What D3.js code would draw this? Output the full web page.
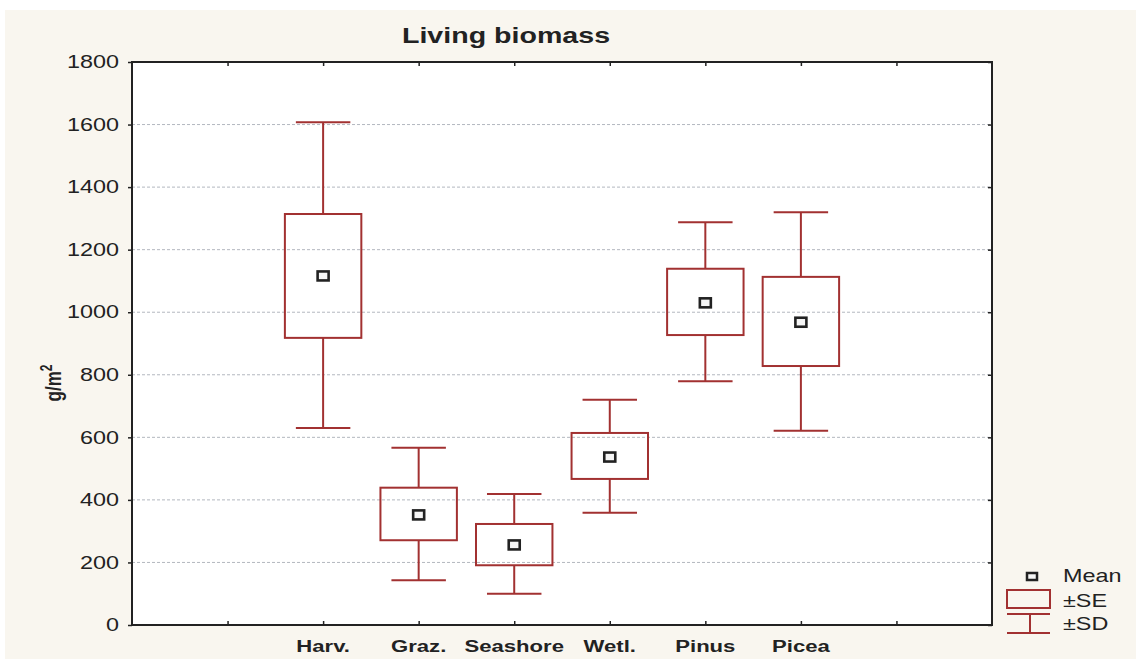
<!DOCTYPE html>
<html>
<head>
<meta charset="utf-8">
<script src="https://cdn.jsdelivr.net/npm/d3@7"></script>
<style>
  html, body { margin: 0; padding: 0; background: #ffffff; }
  svg { display: block; }
  text { font-family: "Liberation Sans", Arial, sans-serif; fill: #222; }
</style>
</head>
<body>
<svg id="chart" width="1136" height="659"></svg>
<script>
// ---- data ----
const categories = ["Harv.", "Graz.", "Seashore", "Wetl.", "Pinus", "Picea"];
const means  = [1116, 352, 256, 537, 1030, 968];
const seLow  = [918, 271, 191, 467, 927, 828];
const seHigh = [1314, 439, 323, 614, 1139, 1113];
const sdLow  = [630, 143, 100, 359, 779, 621];
const sdHigh = [1607, 567, 419, 720, 1288, 1320];
const yTicks = [0, 200, 400, 600, 800, 1000, 1200, 1400, 1600, 1800];
const xTicks = [1, 2, 3, 4, 5, 6, 7, 8];

const chartTitle = "Living biomass";
const legendLabels = ["Mean", "\u00b1SE", "\u00b1SD"];

// ---- layout ----
(function () {
const W = 1136, H = 659;
const pL = 132, pR = 992, pT = 62, pB = 625;
const SX = 1.3; // horizontal text stretch of the reference
const red = "#a23131";
const dark = "#222";

const svg = d3.select("#chart");

// background
svg.append("rect").attr("x", 5).attr("y", 10).attr("width", W - 5).attr("height", H - 10)
  .attr("fill", "#f9f6ef");
svg.append("rect").attr("x", pL).attr("y", pT).attr("width", pR - pL).attr("height", pB - pT)
  .attr("fill", "#ffffff");

const x = d3.scaleLinear().domain([0, 9]).range([pL, pR]);
const y = d3.scaleLinear().domain([0, 1800]).range([pB, pT]);

// gridlines
svg.append("g").selectAll("line")
  .data(yTicks.filter(v => v > 0 && v < 1800))
  .join("line")
  .attr("x1", pL).attr("x2", pR)
  .attr("y1", d => y(d)).attr("y2", d => y(d))
  .attr("stroke", "#b3b7bf").attr("stroke-width", 1)
  .attr("stroke-dasharray", "3,2");

// axes
function styleAxis(g) {
  g.select(".domain").remove();
  g.selectAll(".tick line").attr("stroke", dark).attr("stroke-width", 1.5);
}
const yAxis = svg.append("g").attr("transform", `translate(${pL},0)`)
  .call(d3.axisLeft(y).tickValues(yTicks).tickSize(4).tickPadding(9).tickFormat(d3.format("d")))
  .call(styleAxis);
yAxis.selectAll(".tick text")
  .attr("font-size", 18).style("font-family", "'Liberation Sans', Arial, sans-serif").attr("fill", dark)
  .each(function () {
    const t = d3.select(this);
    const tx = +t.attr("x");
    t.attr("x", 0).attr("transform", `translate(${tx},0) scale(${SX},1)`);
  });

svg.append("g").attr("transform", `translate(0,${pB})`)
  .call(d3.axisTop(x).tickValues(xTicks).tickSize(4).tickFormat(""))
  .call(styleAxis);
svg.append("g").attr("transform", `translate(0,${pT})`)
  .call(d3.axisBottom(x).tickValues(xTicks).tickSize(4).tickFormat(""))
  .call(styleAxis);
svg.append("g").attr("transform", `translate(${pR},0)`)
  .call(d3.axisLeft(y).tickValues(yTicks).tickSize(4).tickFormat(""))
  .call(styleAxis);

// frame
svg.append("rect").attr("x", pL).attr("y", pT).attr("width", pR - pL).attr("height", pB - pT)
  .attr("fill", "none").attr("stroke", dark).attr("stroke-width", 2);

// boxes
const step = x(1) - x(0);
const boxW = step * 0.8, capW = step * 0.57;
const data = categories.map((c, i) => ({
  c, pos: i + 2, mean: means[i], seL: seLow[i], seH: seHigh[i], sdL: sdLow[i], sdH: sdHigh[i]
}));

const g = svg.append("g").selectAll("g").data(data).join("g");
g.append("line").attr("x1", d => x(d.pos)).attr("x2", d => x(d.pos))
  .attr("y1", d => y(d.sdH)).attr("y2", d => y(d.seH))
  .attr("stroke", red).attr("stroke-width", 2);
g.append("line").attr("x1", d => x(d.pos)).attr("x2", d => x(d.pos))
  .attr("y1", d => y(d.seL)).attr("y2", d => y(d.sdL))
  .attr("stroke", red).attr("stroke-width", 2);
g.append("line").attr("x1", d => x(d.pos) - capW / 2).attr("x2", d => x(d.pos) + capW / 2)
  .attr("y1", d => y(d.sdH)).attr("y2", d => y(d.sdH))
  .attr("stroke", red).attr("stroke-width", 2);
g.append("line").attr("x1", d => x(d.pos) - capW / 2).attr("x2", d => x(d.pos) + capW / 2)
  .attr("y1", d => y(d.sdL)).attr("y2", d => y(d.sdL))
  .attr("stroke", red).attr("stroke-width", 2);
g.append("rect").attr("x", d => x(d.pos) - boxW / 2).attr("width", boxW)
  .attr("y", d => y(d.seH)).attr("height", d => y(d.seL) - y(d.seH))
  .attr("fill", "none").attr("stroke", red).attr("stroke-width", 2);
g.append("rect").attr("x", d => x(d.pos) - 5.5).attr("width", 11)
  .attr("y", d => y(d.mean) - 4.5).attr("height", 9)
  .attr("fill", "#f6f6f6").attr("stroke", dark).attr("stroke-width", 2.6);

// x labels
svg.append("g").selectAll("text").data(data).join("text")
  .attr("transform", d => `translate(${x(d.pos)},652) scale(${SX},1)`)
  .attr("text-anchor", "middle").attr("font-size", 17).attr("font-weight", "bold")
  .text(d => d.c);

// title
svg.append("text").attr("transform", `translate(506,43) scale(${SX},1)`)
  .attr("text-anchor", "middle").attr("font-size", 22).attr("font-weight", "bold")
  .text(chartTitle);

// y axis label
const yl = svg.append("text").attr("transform", `translate(61,383) scale(${SX},1) rotate(-90)`)
  .attr("text-anchor", "middle").attr("font-size", 17).attr("font-weight", "bold");
yl.append("tspan").text("g/m");
yl.append("tspan").attr("font-size", 12).attr("dy", -7).text("2");

// legend
const lg = svg.append("g");
lg.append("rect").attr("x", 1027).attr("y", 573).attr("width", 10).attr("height", 7)
  .attr("fill", "#f6f6f6").attr("stroke", dark).attr("stroke-width", 2.5);
lg.append("rect").attr("x", 1007).attr("y", 590).attr("width", 43).attr("height", 18)
  .attr("fill", "none").attr("stroke", red).attr("stroke-width", 2);
lg.append("line").attr("x1", 1007).attr("x2", 1050).attr("y1", 614).attr("y2", 614)
  .attr("stroke", red).attr("stroke-width", 2);
lg.append("line").attr("x1", 1007).attr("x2", 1050).attr("y1", 633).attr("y2", 633)
  .attr("stroke", red).attr("stroke-width", 2);
lg.append("line").attr("x1", 1030).attr("x2", 1030).attr("y1", 614).attr("y2", 633)
  .attr("stroke", red).attr("stroke-width", 2);
const legY = [582, 607, 630];
lg.selectAll("text").data(legendLabels).join("text")
  .attr("transform", (d, i) => `translate(1063,${legY[i]}) scale(${SX},1)`)
  .attr("font-size", 18).text(d => d);
})();
</script>
</body>
</html>
